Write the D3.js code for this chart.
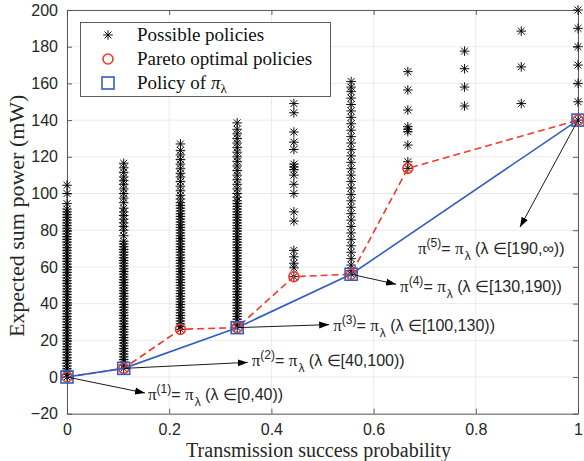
<!DOCTYPE html>
<html>
<head>
<meta charset="utf-8">
<script src="https://cdn.jsdelivr.net/npm/d3@7"></script>
<style>
  html, body { margin: 0; padding: 0; background: #fff; }
  svg { display: block; }
</style>
</head>
<body>
<svg id="chart" width="584" height="461"></svg>
<script>
// ---------------- DATA ----------------
const colX = [0, 0.111, 0.222, 0.333, 0.444, 0.556, 0.667, 0.778, 0.889, 1];

const stars0 = [0,1.5,3,4.5,6,7.5,9,10.5,12,13.5,15,16.5,18,19.5,21,22.5,24,25.5,27,28.5,30,31.5,33,34.5,36,37.5,39,40.5,42,43.5,45,46.5,48,49.5,51,52.5,54,55.5,57,58.5,60,61.5,63,64.5,66,67.5,69,70.5,72,73.5,75,76.5,78,79.5,81,82.5,84,85.5,87,88.5,90,91.5,94.5,100,104.5];
const stars1 = [4.7,6.5,8,9.5,11,12.5,14,15.5,17,18.5,20,21.5,23,24.5,26,27.5,29,30.5,32,33.5,35,36.5,38,39.5,41,42.5,44,45.5,47,48.5,50,51.5,53,54.5,56,57.5,59,60.5,62,63.5,65,66.5,68,69.5,71,72.5,74,77,80,82,84,86,88,90,92,95,97.5,100,102.5,105,107,109,111.5,114,116.5];
const stars2 = [26,27.5,29,30.5,32,33.5,35,36.5,38,39.5,41,42.5,44,45.5,47,48.5,50,51.5,53,54.5,56,57.5,59,60.5,62,63.5,65,66.5,68,69.5,71,72.5,74,75.5,77,78.5,80,81.5,83,84.5,86,87.5,89,90.5,92,93.5,95,97,99,101.5,104,106.5,109,111,113.5,116,118.5,121,123.5,127];
const stars3 = [26.9,28.5,30,31.5,33,34.5,36,37.5,39,40.5,42,43.5,45,46.5,48,49.5,51,52.5,54,55.5,57,58.5,60,61.5,63,64.5,66,67.5,69,70.5,72,73.5,75,76.5,78,79.5,81,82.5,84,85.5,87,88.5,90,91.5,93,94.5,96,98,100,102.5,105,107.5,110,112.5,115,117.5,120,122.5,125,127.5,130,132.5,135,138.5];
const stars4 = [54.7,59.5,62,65.5,69,85,90,100,105,110,113,114.5,116,124,128,133.5,144,149];
const stars5 = [56,58,61,64.5,68,71.5,75,78.5,82,85.5,89,92.5,96,99.5,103,106.5,110,113.5,117,120.5,124,127.5,131,134.5,138,141.5,145,148.5,152,155.5,158,161];
const stars6 = [113.7,117.3,126.4,133.7,135,136.4,145.5,156.4,166.4];
const stars7 = [147.7,158,168,177.6];
const stars8 = [149,169,188.5];
const stars9 = [140,150,160,170,180,190,200];

const paretoX = [0, 0.111, 0.222, 0.333, 0.444, 0.556, 0.667, 1];
const paretoY = [0, 4.7, 26, 26.9, 54.7, 56, 113.7, 140];

const policyX = [0, 0.111, 0.333, 0.556, 1];
const policyY = [0, 4.7, 26.9, 56, 140];

const xTicks = [0, 0.2, 0.4, 0.6, 0.8, 1];
const yTicks = [-20, 0, 20, 40, 60, 80, 100, 120, 140, 160, 180, 200];

const legendLabels = ["Possible policies", "Pareto optimal policies", "Policy of "];
const annIndex = ["1", "2", "3", "4", "5"];
const annRange = ["[0,40)", "[40,100)", "[100,130)", "[130,190)", "[190,\u221E)"];

const xLabel = "Transmission success probability";
const yLabel = "Expected sum power (mW)";

// ---------------- LAYOUT ----------------
const svg = d3.select("#chart");
const L = 67, R = 578, T = 10, B = 413.7;
const x = d3.scaleLinear().domain([0, 1]).range([L, R]);
const y = d3.scaleLinear().domain([-20, 200]).range([B, T]);

const SERIF = "'Liberation Serif', 'Times New Roman', serif";
const SANS = "'Liberation Sans', Arial, sans-serif";
const AX = "#4d4d4d";
const GRID = "#e6e6e6";
const RED = "#f23a2a";
const BLUE = "#2f5fc4";

// grid
svg.append("g").selectAll("line.gx").data(xTicks).join("line")
  .attr("x1", d => x(d)).attr("x2", d => x(d)).attr("y1", T).attr("y2", B)
  .attr("stroke", GRID).attr("stroke-width", 0.8);
svg.append("g").selectAll("line.gy").data(yTicks).join("line")
  .attr("y1", d => y(d)).attr("y2", d => y(d)).attr("x1", L).attr("x2", R)
  .attr("stroke", GRID).attr("stroke-width", 0.8);

// axes (MATLAB style, inward ticks, box)
const tk = 5;
const xAxisB = d3.axisBottom(x).tickValues(xTicks).tickSizeInner(-tk).tickSizeOuter(0).tickPadding(10)
  .tickFormat(d => d3.format("")(d));
const xAxisT = d3.axisTop(x).tickValues(xTicks).tickSizeInner(-tk).tickSizeOuter(0).tickFormat("");
const yAxisL = d3.axisLeft(y).tickValues(yTicks).tickSizeInner(-tk).tickSizeOuter(0).tickPadding(9);
const yAxisR = d3.axisRight(y).tickValues(yTicks).tickSizeInner(-tk).tickSizeOuter(0).tickFormat("");

function styleAxis(g) {
  g.select(".domain").attr("stroke", AX).attr("stroke-width", 0.9);
  g.selectAll(".tick line").attr("stroke", AX).attr("stroke-width", 0.9);
  g.selectAll(".tick text").attr("fill", "#262626").style("font-family", SANS).style("font-size", "16px");
}
svg.append("g").attr("transform", `translate(0,${B})`).call(xAxisB).call(styleAxis);
svg.append("g").attr("transform", `translate(0,${T})`).call(xAxisT).call(styleAxis);
svg.append("g").attr("transform", `translate(${L},0)`).call(yAxisL).call(styleAxis);
svg.append("g").attr("transform", `translate(${R},0)`).call(yAxisR).call(styleAxis);

// axis labels
svg.append("text").attr("x", (L + R) / 2 - 4).attr("y", 457).attr("text-anchor", "middle")
  .style("font-family", SERIF).style("font-size", "20px").attr("fill", "#262626").text(xLabel);
svg.append("text").attr("transform", `translate(24,${(T + B) / 2 + 4}) rotate(-90)`).attr("text-anchor", "middle")
  .style("font-family", SERIF).style("font-size", "22px").attr("fill", "#262626").text(yLabel);

// star marker
function starPath(r) {
  const d = r * 0.72;
  return `M${-r},0L${r},0M0,${-r}L0,${r}M${-d},${-d}L${d},${d}M${-d},${d}L${d},${-d}`;
}
const allStars = [stars0, stars1, stars2, stars3, stars4, stars5, stars6, stars7, stars8, stars9];
const starPts = [];
allStars.forEach((arr, i) => arr.forEach(v => starPts.push({ x: colX[i], y: v })));
svg.append("g").selectAll("path").data(starPts).join("path")
  .attr("d", starPath(4.8))
  .attr("transform", d => `translate(${x(d.x)},${y(d.y)})`)
  .attr("stroke", "#000").attr("stroke-width", 0.95).attr("fill", "none");

// pareto
const paretoPts = paretoX.map((v, i) => ({ x: v, y: paretoY[i] }));
const policyPts = policyX.map((v, i) => ({ x: v, y: policyY[i] }));
const line = d3.line().x(d => x(d.x)).y(d => y(d.y));
svg.append("path").datum(paretoPts).attr("d", line)
  .attr("fill", "none").attr("stroke", RED).attr("stroke-width", 1.6).attr("stroke-dasharray", "7,4");
svg.append("path").datum(policyPts).attr("d", line)
  .attr("fill", "none").attr("stroke", BLUE).attr("stroke-width", 1.6);
svg.append("g").selectAll("circle").data(paretoPts).join("circle")
  .attr("cx", d => x(d.x)).attr("cy", d => y(d.y)).attr("r", 5)
  .attr("fill", "none").attr("stroke", RED).attr("stroke-width", 1.6);
svg.append("g").selectAll("rect").data(policyPts).join("rect")
  .attr("x", d => x(d.x) - 6).attr("y", d => y(d.y) - 6).attr("width", 12).attr("height", 12)
  .attr("fill", "none").attr("stroke", BLUE).attr("stroke-width", 1.6);

// annotations
const defs = svg.append("defs");
defs.append("marker").attr("id", "arr").attr("viewBox", "0 0 10 10").attr("refX", 10).attr("refY", 5)
  .attr("markerWidth", 10).attr("markerHeight", 10).attr("markerUnits", "userSpaceOnUse").attr("orient", "auto")
  .append("path").attr("d", "M0,1.5L10,5L0,8.5Z").attr("fill", "#000");

const annLayout = [
  { head: [78, 16], text: [81, 23] },
  { head: [124, -6], text: [128, -2] },
  { head: [92, -3], text: [96, 3] },
  { head: [45, 10], text: [49, 18] },
  { head: [-58, 107], text: [-160, 134] }
];
const annG = svg.append("g");
policyPts.forEach((p, i) => {
  const ax = x(p.x), ay = y(p.y);
  const lay = annLayout[i];
  annG.append("line").attr("x1", ax).attr("y1", ay)
    .attr("x2", ax + lay.head[0]).attr("y2", ay + lay.head[1])
    .attr("stroke", "#000").attr("stroke-width", 0.9).attr("marker-end", "url(#arr)");
  const t = annG.append("text").attr("x", ax + lay.text[0]).attr("y", ay + lay.text[1])
    .style("font-family", SANS).style("font-size", "16px").attr("fill", "#262626");
  t.append("tspan").style("font-family", SERIF).style("font-size", "17px").text("\u03C0");
  t.append("tspan").attr("dy", -7).style("font-size", "12px").text(`(${annIndex[i]})`);
  t.append("tspan").attr("dy", 7).text("= ");
  t.append("tspan").style("font-family", SERIF).style("font-size", "17px").text("\u03C0");
  t.append("tspan").attr("dy", 6).attr("dx", 1).style("font-size", "12px").text("\u03BB");
  t.append("tspan").attr("dy", -6).text(` (\u03BB \u2208${annRange[i]})`);
});

// legend
const lg = svg.append("g");
lg.append("rect").attr("x", 80.5).attr("y", 22.5).attr("width", 250).attr("height", 74)
  .attr("fill", "#fff").attr("stroke", AX).attr("stroke-width", 0.9);
const legY = [35, 59, 83];
lg.append("path").attr("d", starPath(4.8)).attr("transform", `translate(108,${legY[0]})`)
  .attr("stroke", "#000").attr("stroke-width", 0.95).attr("fill", "none");
lg.append("circle").attr("cx", 108).attr("cy", legY[1]).attr("r", 5)
  .attr("fill", "none").attr("stroke", RED).attr("stroke-width", 1.6);
lg.append("rect").attr("x", 102).attr("y", legY[2] - 6).attr("width", 12).attr("height", 12)
  .attr("fill", "none").attr("stroke", BLUE).attr("stroke-width", 1.6);
legendLabels.forEach((s, i) => {
  const t = lg.append("text").attr("x", 137).attr("y", legY[i] + 6)
    .style("font-family", SERIF).style("font-size", "19px").attr("fill", "#111").text(s);
  if (i === 2) {
    t.append("tspan").style("font-style", "italic").text("\u03C0");
    t.append("tspan").attr("dy", 4).style("font-size", "13px").text("\u03BB");
  }
});
</script>
</body>
</html>
